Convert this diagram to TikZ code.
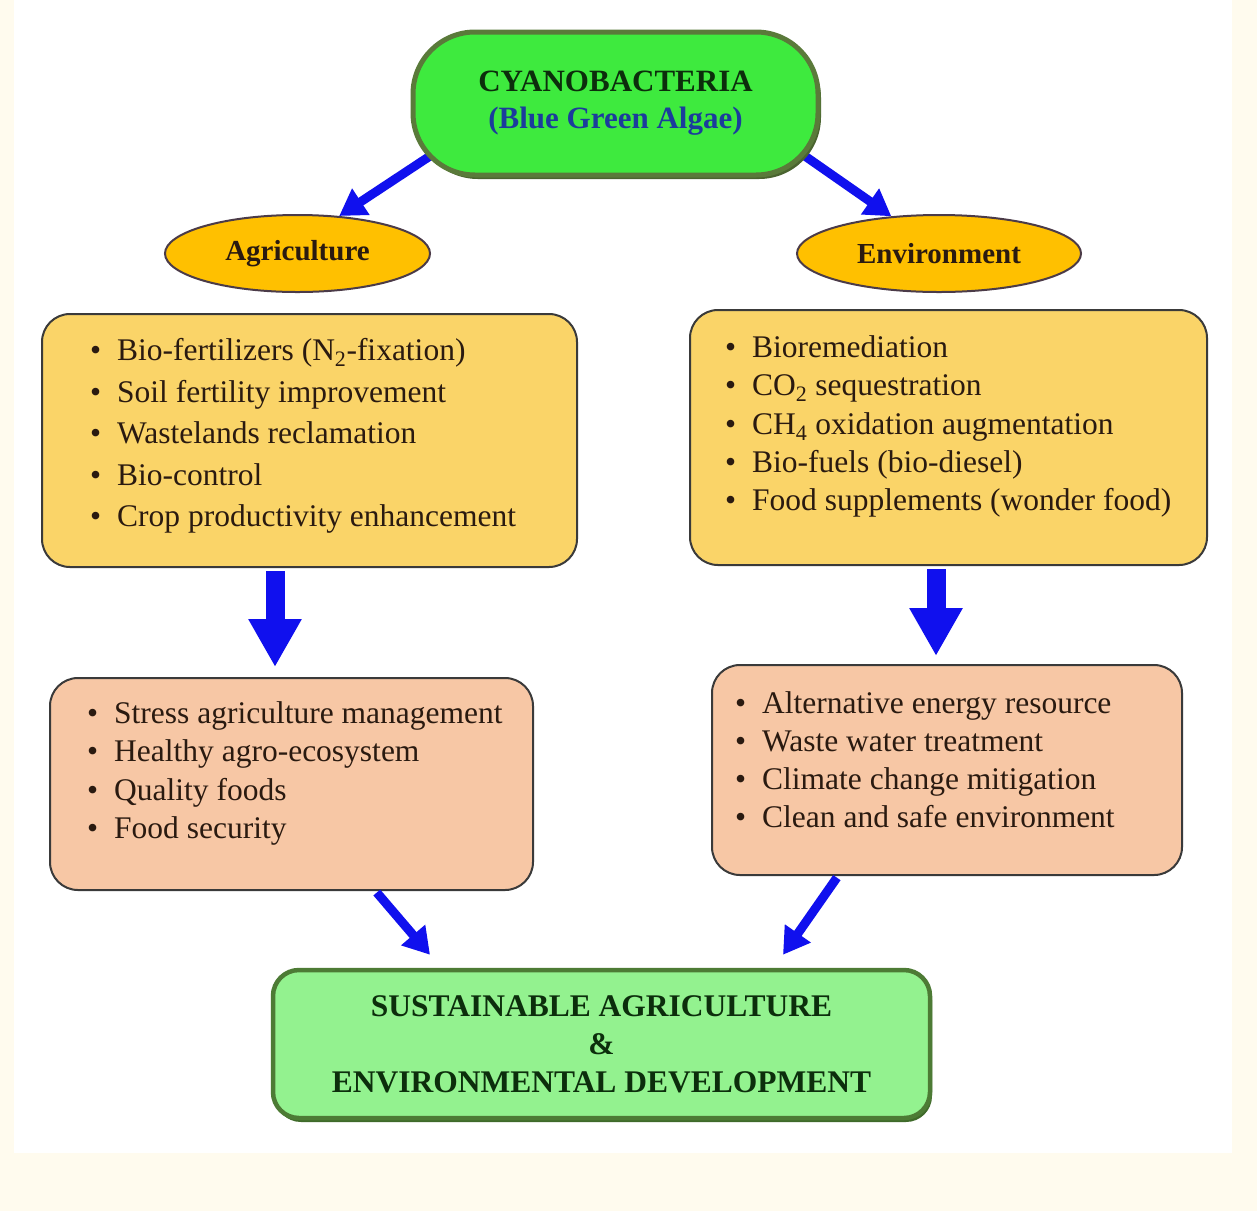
\documentclass[tikz,border=0pt]{standalone}
\usepackage{fontspec}
\setmainfont{Liberation Serif}
\usetikzlibrary{arrows.meta,shapes.geometric,shadows}
\pgfdeclarelayer{back}
\pgfdeclarelayer{bg}
\pgfsetlayers{back,bg,main}
\definecolor{cream}{HTML}{FFFBEE}
\definecolor{topgreen}{HTML}{3EEA3E}
\definecolor{topborder}{HTML}{5A7A3A}
\definecolor{topshadow}{HTML}{4A6430}
\definecolor{titledark}{HTML}{0C2E0C}
\definecolor{titleblue}{HTML}{1B3C9C}
\definecolor{ellfill}{HTML}{FFC000}
\definecolor{ellborder}{HTML}{4B3B48}
\definecolor{upfill}{HTML}{FAD468}
\definecolor{lowfill}{HTML}{F7C7A5}
\definecolor{boxborder}{HTML}{3A3A3A}
\definecolor{sustfill}{HTML}{93F28F}
\definecolor{sustborder}{HTML}{4D7B35}
\definecolor{sustshadow}{HTML}{3F6A2A}
\definecolor{arrowblue}{HTML}{1010EE}
\definecolor{textdark}{HTML}{2A1A10}
\newcommand{\bl}{\makebox[27pt][l]{\textbullet}}
\begin{document}
\begin{tikzpicture}[x=1pt,y=1pt,
  topbox/.style={rectangle, rounded corners=62pt, fill=topgreen, draw=topborder, line width=5pt,
    minimum width=405pt, minimum height=143pt, inner sep=0pt,
    drop shadow={shadow xshift=3pt, shadow yshift=-4pt, fill=topshadow, opacity=1}},
  ellnode/.style={ellipse, fill=ellfill, draw=ellborder, line width=2pt, inner sep=0pt,
    minimum height=77pt, text=textdark, font=\fontsize{29}{32}\selectfont\bfseries},
  upbox/.style={rectangle, rounded corners=28pt, fill=upfill, draw=boxborder, line width=2pt, inner sep=0pt},
  lowbox/.style={rectangle, rounded corners=28pt, fill=lowfill, draw=boxborder, line width=2pt, inner sep=0pt},
  sustbox/.style={rectangle, rounded corners=26pt, fill=sustfill, draw=sustborder, line width=4.5pt, inner sep=0pt,
    minimum width=657pt, minimum height=148pt, text=titledark, align=center,
    font=\fontsize{31.5}{38}\selectfont\bfseries,
    drop shadow={shadow xshift=2pt, shadow yshift=-4pt, fill=sustshadow, opacity=1}},
  listtext/.style={anchor=west, align=left, inner sep=0pt, text=textdark},
  darrow/.style={draw=arrowblue, line width=9pt, -{Triangle[length=26pt,width=30pt]}},
  blockarrow/.style={draw=arrowblue, line width=19pt, -{Triangle[length=48pt,width=50pt]}}
]
\begin{pgfonlayer}{back}
\fill[cream] (0,0) rectangle (1257,-1211);
\fill[white] (14,0) rectangle (1232,-1153);
\end{pgfonlayer}
\useasboundingbox (0,0) rectangle (1257,-1211);

% top node
\node[topbox, align=center, font=\fontsize{31}{37}\selectfont\bfseries] (top) at (615.5,-103.5)
  {\textcolor{titledark}{CYANOBACTERIA}\\\textcolor{titleblue}{(Blue Green Algae)}};

% ellipses
\node[ellnode, minimum width=265pt] (agri) at (297.5,-253.5) {Agriculture};
\node[ellnode, minimum width=284pt] (env) at (939,-253.5) {Environment};

% upper boxes
\node[upbox, minimum width=535pt, minimum height=253pt] (agbox) at (309.5,-440.5) {};
\node[upbox, minimum width=517pt, minimum height=255pt] (envbox) at (948.5,-437.5) {};
\node[listtext, font=\fontsize{31.5}{41.5}\selectfont] (agtext) at (90,-436)
  {\bl Bio-fertilizers (N\textsubscript{2}-fixation)\\
   \bl Soil fertility improvement\\
   \bl Wastelands reclamation\\
   \bl Bio-control\\
   \bl Crop productivity enhancement};
\node[listtext, font=\fontsize{31.5}{38.3}\selectfont] (envtext) at (725,-426.5)
  {\bl Bioremediation\\
   \bl CO\textsubscript{2} sequestration\\
   \bl CH\textsubscript{4} oxidation augmentation\\
   \bl Bio-fuels (bio-diesel)\\
   \bl Food supplements (wonder food)};

% lower boxes
\node[lowbox, minimum width=483pt, minimum height=212pt] (lowL) at (291.5,-784) {};
\node[lowbox, minimum width=470pt, minimum height=210pt] (lowR) at (947,-770) {};
\node[listtext, font=\fontsize{31.5}{38.3}\selectfont] (lowLtext) at (87,-773.5)
  {\bl Stress agriculture management\\
   \bl Healthy agro-ecosystem\\
   \bl Quality foods\\
   \bl Food security};
\node[listtext, font=\fontsize{31.5}{38}\selectfont] (lowRtext) at (735,-760)
  {\bl Alternative energy resource\\
   \bl Waste water treatment\\
   \bl Climate change mitigation\\
   \bl Clean and safe environment};

% bottom node
\node[sustbox] (sust) at (601.5,-1044)
  {SUSTAINABLE AGRICULTURE\\\&\\ENVIRONMENTAL DEVELOPMENT};

% arrows
\begin{pgfonlayer}{bg}
\draw[darrow] ([shift={(40pt,35pt)}]top.south west) -- (agri.42);
\draw[darrow] ([shift={(-35pt,35pt)}]top.south east) -- (env.142);
\end{pgfonlayer}
\draw[blockarrow, shorten <=3pt, shorten >=10pt] ([xshift=-34.5pt]agbox.south) -- ([xshift=-34.5pt]agbox.south |- lowL.north);
\draw[blockarrow, shorten <=3pt, shorten >=8pt] ([xshift=-12.5pt]envbox.south) -- ([xshift=-12.5pt]envbox.south |- lowR.north);
\draw[darrow, shorten <=2pt] ([xshift=84pt]lowL.south) -- ([shift={(-171.5pt,13pt)}]sust.north);
\draw[darrow, shorten <=2pt] ([xshift=-109pt]lowR.south) -- ([shift={(181.5pt,13pt)}]sust.north);
\end{tikzpicture}
\end{document}
